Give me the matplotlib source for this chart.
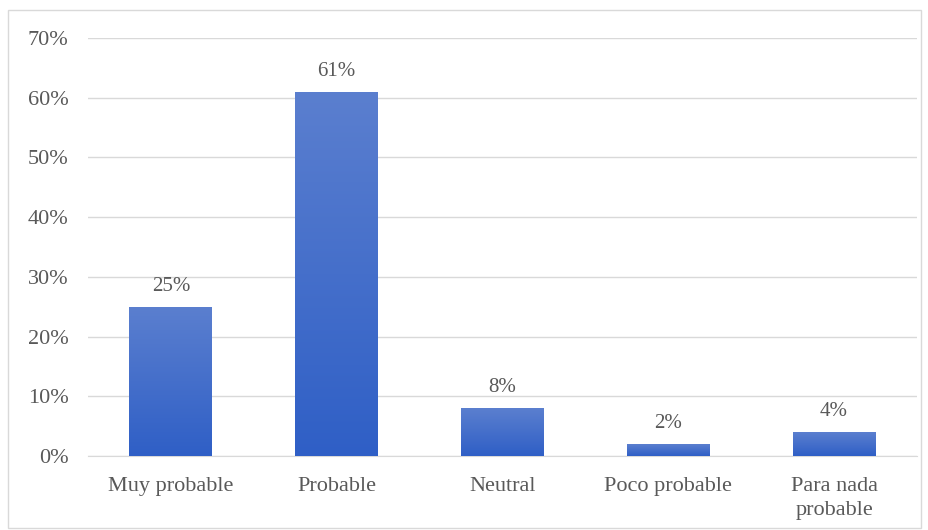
import matplotlib.pyplot as plt
import numpy as np
from matplotlib.colors import LinearSegmentedColormap
from matplotlib.patches import Rectangle

categories = ["Muy probable", "Probable", "Neutral", "Poco probable", "Para nada\nprobable"]
values = [25, 61, 8, 2, 4]
yticks = [0, 10, 20, 30, 40, 50, 60, 70]

plt.rcParams["font.family"] = ["Liberation Serif", "DejaVu Serif"]
text_color = "#595959"
grid_color = "#d9d9d9"

fig = plt.figure(figsize=(9.29, 5.30), dpi=100)
ax = fig.add_axes([88 / 929, 1 - 456 / 530, (917 - 88) / 929, (456 - 38) / 530])

# Vertical blue gradient: lighter at the top, deeper at the base.
grad = LinearSegmentedColormap.from_list("bar", ["#2f5fc6", "#5b7fcf"])
x = np.arange(len(categories))
bars = ax.bar(x, values, width=0.5, color="none", zorder=3)
ramp = np.linspace(0, 1, 256).reshape(-1, 1)
for bar in bars:
    x0, w, h = bar.get_x(), bar.get_width(), bar.get_height()
    img = ax.imshow(ramp, cmap=grad, origin="lower", aspect="auto",
                    extent=[x0, x0 + w, 0, h], zorder=3)
    img.set_clip_path(bar)

for xi, v in zip(x, values):
    ax.annotate(f"{v}%", (xi, v), xytext=(0, 8), textcoords="offset points",
                ha="center", va="bottom", fontsize=15, color=text_color)

ax.set_xlim(-0.5, len(categories) - 0.5)
ax.set_ylim(0, 70)
ax.set_yticks(yticks)
ax.set_yticklabels([f"{t}%" for t in yticks])
ax.set_xticks(x)
ax.set_xticklabels(categories, linespacing=1.4)
ax.tick_params(axis="both", length=0, labelsize=16, labelcolor=text_color)
ax.tick_params(axis="y", pad=14)
ax.tick_params(axis="x", pad=15)
ax.grid(axis="y", color=grid_color, linewidth=1, zorder=0)
ax.set_axisbelow(True)
for side in ["top", "right", "left"]:
    ax.spines[side].set_visible(False)
ax.spines["bottom"].set_color(grid_color)

# Light frame around the whole chart
fig.patches.append(Rectangle((8 / 929, 2 / 530), 913 / 929, 518 / 530,
                             transform=fig.transFigure, fill=False,
                             edgecolor="#d9d9d9", linewidth=1))

fig.savefig("out.png", dpi=100)
